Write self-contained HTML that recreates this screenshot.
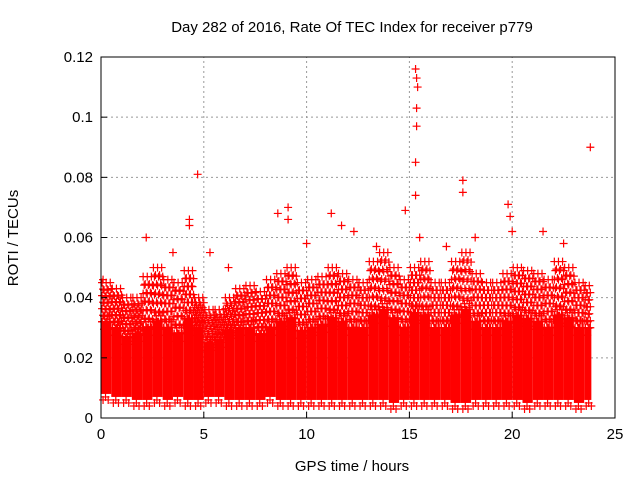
<!DOCTYPE html>
<html><head><meta charset="utf-8"><style>
body{margin:0;background:#fff;}
svg text{font-family:"Liberation Sans",sans-serif;}
</style></head><body>
<svg id="chart" width="640" height="480" xmlns="http://www.w3.org/2000/svg">
<rect width="640" height="480" fill="#fff"/>
<text x="352" y="32" font-size="15" text-anchor="middle" fill="#000">Day 282 of 2016, Rate Of TEC Index for receiver p779</text>
<text x="352" y="471" font-size="15" text-anchor="middle">GPS time / hours</text>
<text transform="translate(18,238) rotate(-90)" font-size="15" text-anchor="middle">ROTI / TECUs</text>
<g id="grid"></g>
<g id="marks"></g>
<rect x="101" y="57" width="514" height="361" fill="none" stroke="#000" stroke-width="1"/>
<g id="ticks"></g>
</svg>
<script>
const xTicks=[0,5,10,15,20,25];
const yTicks=[0,0.02,0.04,0.06,0.08,0.1,0.12];
const yTickLabels=["0","0.02","0.04","0.06","0.08","0.1","0.12"];
const binHours=[0,0.5,1,1.5,2,2.5,3,3.5,4,4.5,5,5.5,6,6.5,7,7.5,8,8.5,9,9.5,10,10.5,11,11.5,12,12.5,13,13.5,14,14.5,15,15.5,16,16.5,17,17.5,18,18.5,19,19.5,20,20.5,21,21.5,22,22.5,23,23.5];
const lo=[0.008,0.007,0.007,0.006,0.006,0.007,0.006,0.007,0.006,0.006,0.007,0.007,0.006,0.006,0.006,0.006,0.007,0.006,0.006,0.006,0.006,0.006,0.006,0.006,0.006,0.006,0.006,0.006,0.005,0.006,0.006,0.006,0.006,0.006,0.005,0.005,0.006,0.006,0.006,0.006,0.006,0.005,0.006,0.006,0.006,0.006,0.005,0.006];
const core=[0.032,0.03,0.027,0.028,0.03,0.032,0.03,0.028,0.033,0.03,0.025,0.026,0.029,0.03,0.03,0.028,0.03,0.032,0.033,0.029,0.03,0.031,0.033,0.032,0.03,0.03,0.034,0.036,0.033,0.03,0.035,0.034,0.03,0.03,0.034,0.036,0.032,0.03,0.03,0.032,0.034,0.033,0.032,0.03,0.034,0.033,0.03,0.03];
const topV=[0.045,0.043,0.04,0.04,0.047,0.05,0.046,0.045,0.049,0.04,0.036,0.036,0.04,0.043,0.044,0.042,0.046,0.048,0.05,0.045,0.046,0.047,0.05,0.048,0.046,0.045,0.052,0.055,0.05,0.046,0.05,0.052,0.045,0.045,0.052,0.055,0.048,0.045,0.045,0.048,0.05,0.049,0.048,0.046,0.052,0.05,0.045,0.044];
const spikeT=[0.1,2.2,3.5,4.3,4.3,4.7,5.3,6.2,8.6,9.1,9.1,10,11.2,11.7,12.3,13.4,14.8,15.3,15.35,15.4,15.35,15.35,15.3,15.3,15.5,16.8,17.6,17.6,18.2,19.8,19.9,20,21.5,22.5,23.8];
const spikeV=[0.046,0.06,0.055,0.066,0.064,0.081,0.055,0.05,0.068,0.07,0.066,0.058,0.068,0.064,0.062,0.057,0.069,0.116,0.113,0.11,0.103,0.097,0.085,0.074,0.06,0.057,0.079,0.075,0.06,0.071,0.067,0.062,0.062,0.058,0.09];
const X0=101,X1=615,Y0=418,Y1=57;
const xs=v=>X0+(v/25)*(X1-X0);
const ys=v=>Y0-(v/0.12)*(Y0-Y1);
const NS="http://www.w3.org/2000/svg";
const grid=document.getElementById('grid'),marks=document.getElementById('marks'),ticks=document.getElementById('ticks');
function mk(tag,attrs,parent){const e=document.createElementNS(NS,tag);for(const k in attrs)e.setAttribute(k,attrs[k]);parent.appendChild(e);return e;}
xTicks.forEach((t,i)=>{
  if(i>0&&i<xTicks.length-1){const g=mk('line',{x1:xs(t),x2:xs(t),y1:Y0,y2:Y1,stroke:'#999','stroke-dasharray':'2,3'},grid);
  
  }
  const tk=mk('line',{x1:xs(t),x2:xs(t),y1:Y0,y2:Y0-6,stroke:'#000'},ticks);
  
  
  const l=mk('text',{x:xs(t),y:Y0+21,'font-size':15,'text-anchor':'middle'},ticks);l.textContent=t;
  
  
});
yTicks.forEach((t,i)=>{
  if(i>0&&i<yTicks.length-1){const g=mk('line',{x1:X0,x2:X1,y1:ys(t),y2:ys(t),stroke:'#999','stroke-dasharray':'2,3'},grid);
  
  }
  const tk=mk('line',{x1:X0,x2:X0+6,y1:ys(t),y2:ys(t),stroke:'#000'},ticks);
  
  
  const l=mk('text',{x:X0-8,y:ys(t)+5,'font-size':15,'text-anchor':'end'},ticks);l.textContent=yTickLabels[i];
  
  
});
function plus(t,v){
  const p=mk('path',{d:`M${xs(t)-4},${ys(v)}h8M${xs(t)},${ys(v)-4}v8`,stroke:'#f00','stroke-width':1.2},marks);
  
  
}
binHours.forEach((h,i)=>{
  const w=xs(0.5)-xs(0);
  const r=mk('rect',{x:xs(h),y:ys(core[i]),width:Math.min(w,xs(23.85)-xs(h)),height:ys(lo[i])-ys(core[i]),fill:'#f00'},marks);
  
  
  const steps=6;
  for(let k=0;k<=steps;k++){
    const v=core[i]+(topV[i]-core[i])*k/steps;
    for(let j=0;j<5;j++){const tt=h+0.05+j*0.1+(k%2)*0.05; if(tt<23.85) plus(tt,v-(j%2)*0.0025);}
  }
  for(let j=0;j<4;j++){const tt=h+0.06+j*0.12; if(tt<23.85) plus(tt,core[i]+(j%2)*0.002);}
  plus(h+0.1,lo[i]-0.002);plus(h+0.35,lo[i]-0.002);plus(h+0.22,lo[i]-0.001);
});
spikeT.forEach((t,i)=>plus(t,spikeV[i]));
</script>
</body></html>
